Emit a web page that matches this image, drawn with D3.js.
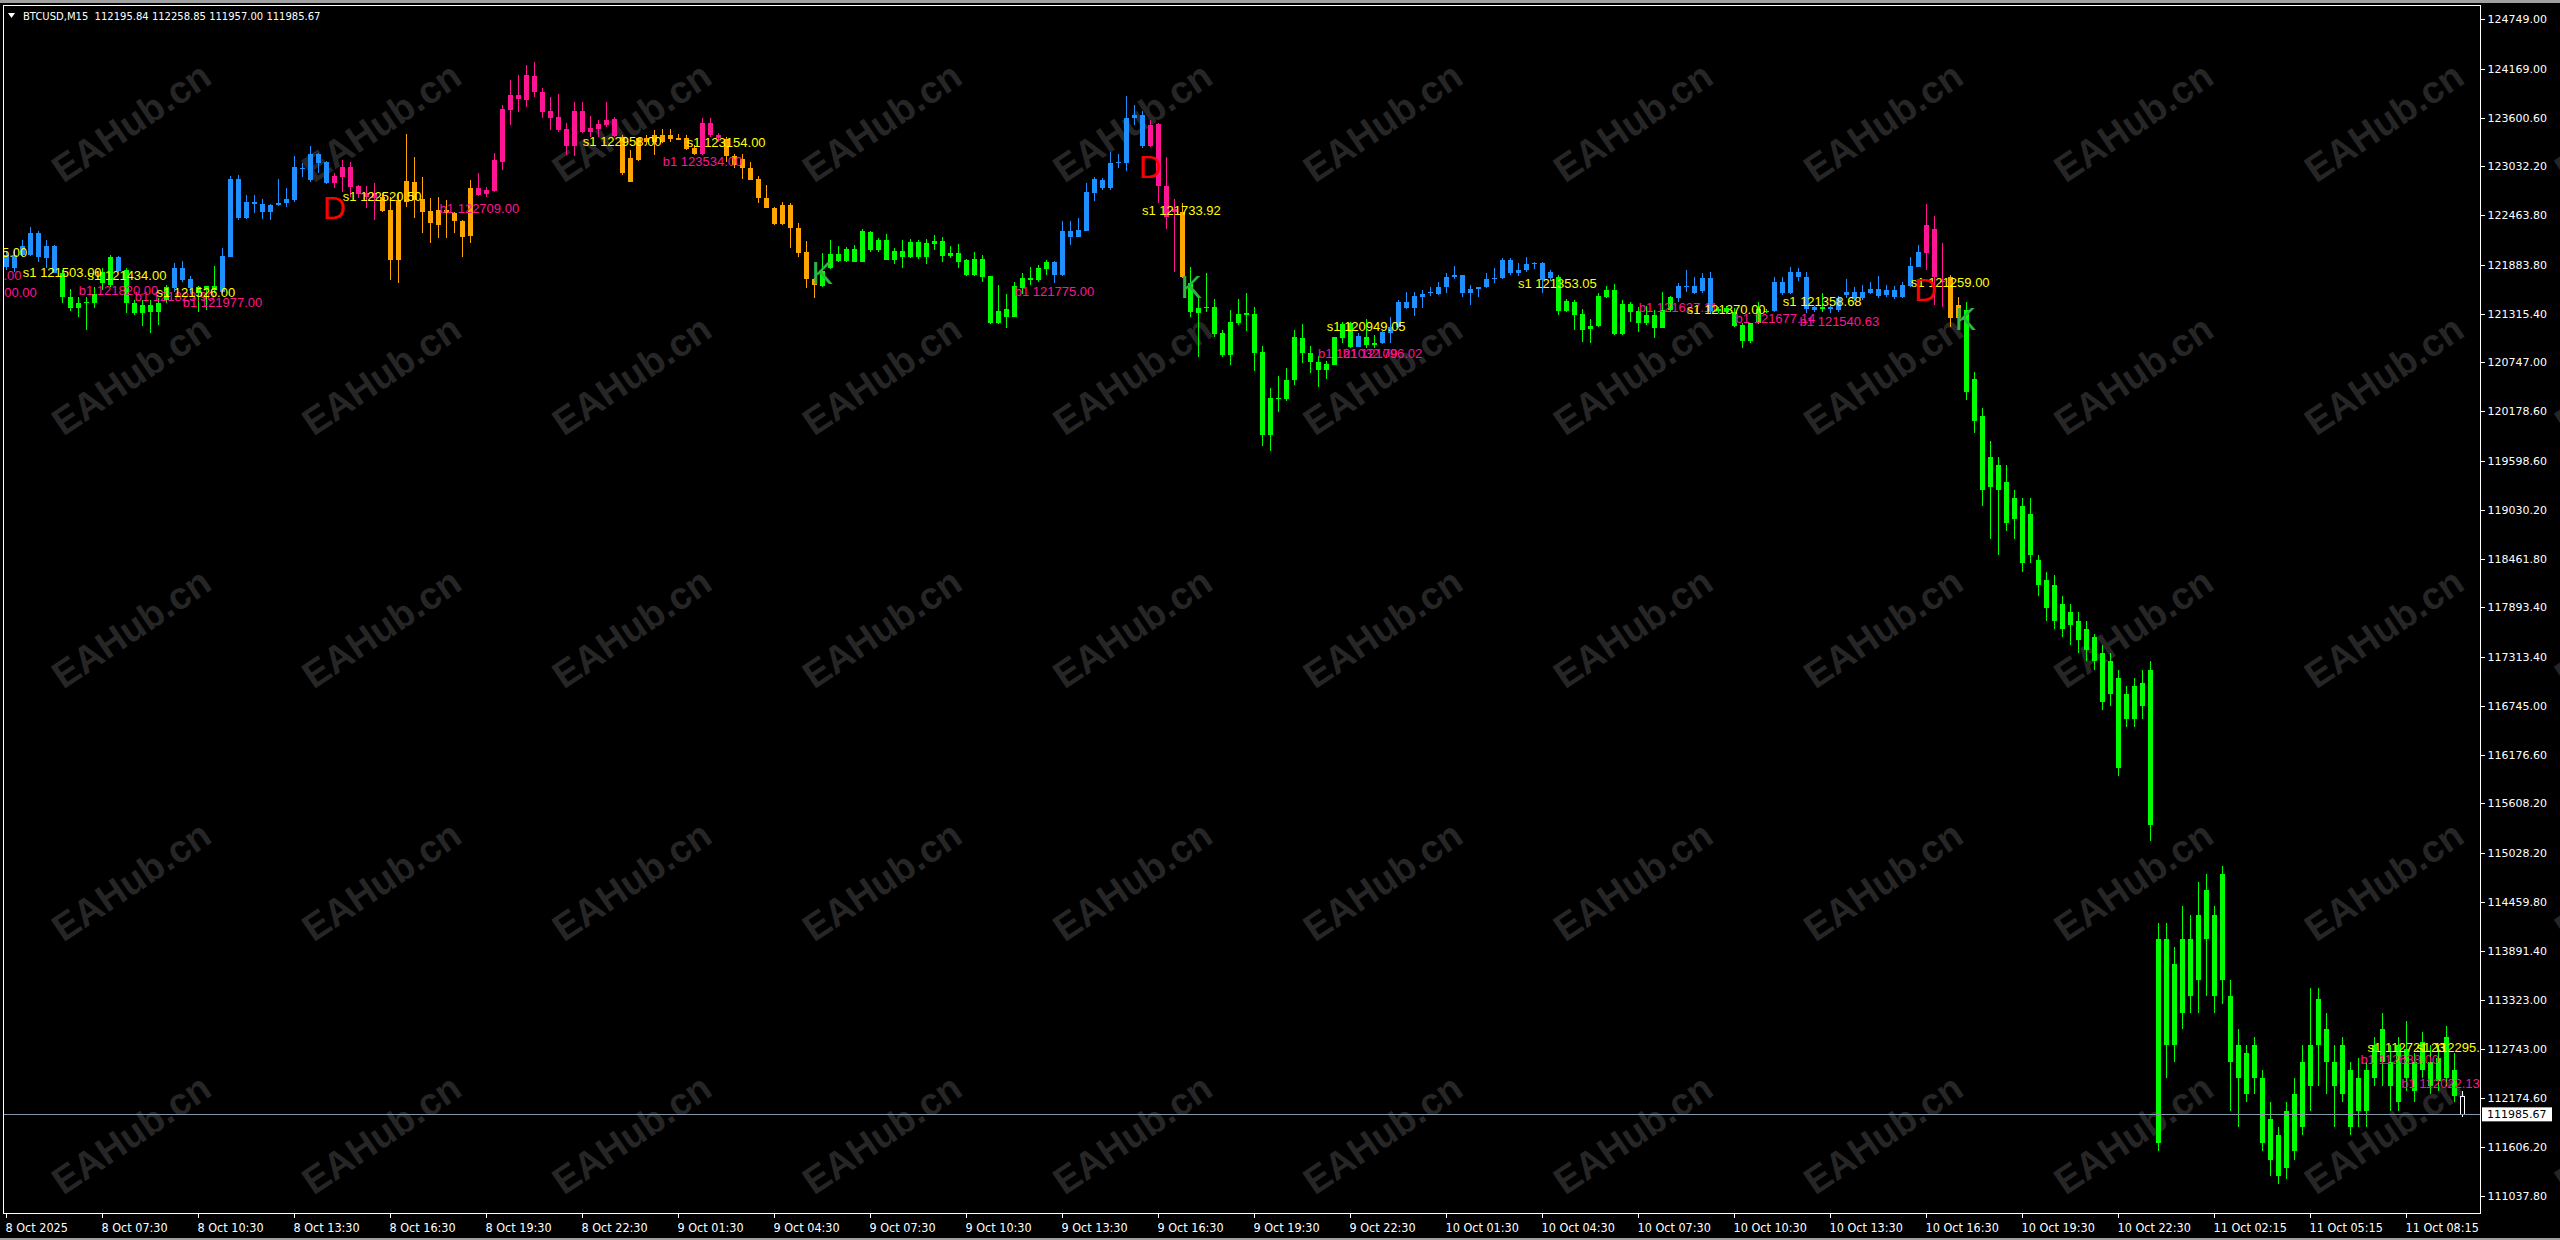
<!DOCTYPE html>
<html>
<head>
<meta charset="utf-8">
<script src="https://cdn.jsdelivr.net/npm/d3@7"></script>
<style>
  html, body { margin: 0; padding: 0; background: #000; }
  svg { display: block; }
</style>
</head>
<body>
<div id="chart"></div>
<script>
const symbolInfo = "BTCUSD,M15  112195.84 112258.85 111957.00 111985.67";
const lastPrice = 111985.67;

const priceTicks = [124749.00, 124169.00, 123600.60, 123032.20, 122463.80, 121883.80, 121315.40,
  120747.00, 120178.60, 119598.60, 119030.20, 118461.80, 117893.40, 117313.40, 116745.00,
  116176.60, 115608.20, 115028.20, 114459.80, 113891.40, 113323.00, 112743.00, 112174.60,
  111606.20, 111037.80];

const timeLabels = ["8 Oct 2025", "8 Oct 07:30", "8 Oct 10:30", "8 Oct 13:30", "8 Oct 16:30",
  "8 Oct 19:30", "8 Oct 22:30", "9 Oct 01:30", "9 Oct 04:30", "9 Oct 07:30", "9 Oct 10:30",
  "9 Oct 13:30", "9 Oct 16:30", "9 Oct 19:30", "9 Oct 22:30", "10 Oct 01:30", "10 Oct 04:30",
  "10 Oct 07:30", "10 Oct 10:30", "10 Oct 13:30", "10 Oct 16:30", "10 Oct 19:30", "10 Oct 22:30",
  "11 Oct 02:15", "11 Oct 05:15", "11 Oct 08:15"];
const labelEvery = 12;

// indicator state per run of bars: B up, G weak, O pullback, P down, W plain last bar
const signalRuns = [["B",7],["G",7],["B",1],["G",6],["B",3],["G",3],["B",14],["P",6],["O",12],
  ["P",18],["O",10],["P",3],["O",12],["G",29],["B",12],["P",4],["O",1],["G",21],["B",1],["G",2],
  ["B",22],["G",15],["B",5],["G",7],["B",6],["G",1],["B",12],["P",3],["O",2],["G",62],["W",1]];

// open, high, low, close
const ohlc = [
[121863,122038,121824,121999],[121999,122057,121805,121844],[121999,122174,121980,122104],[121999,122321,121990,122252],
[122252,122283,121921,121972],[122104,122174,121844,121960],[122104,122116,121785,121793],[121785,121824,121444,121506],
[121514,121599,121350,121385],[121385,121514,121281,121444],[121444,121514,121125,121455],[121436,121622,121378,121545],
[121669,121844,121591,121805],[121650,121999,121630,121980],[121980,121987,121805,121817],[121824,121844,121319,121436],
[121444,121475,121300,121319],[121319,121475,121176,121416],[121416,121475,121086,121339],[121339,121494,121183,121436],
[121475,121650,121436,121630],[121611,121902,121572,121844],[121844,121933,121689,121708],[121716,121754,121552,121611],
[121630,121642,121339,121552],[121591,121642,121358,121638],[121638,121871,121552,121591],[121572,122077,121552,121987],
[121980,122920,121972,122881],[122881,122931,122407,122426],[122426,122698,122418,122617],[122617,122698,122492,122589],
[122593,122648,122418,122504],[122504,122593,122407,122582],[122582,122881,122570,122609],[122601,122776,122555,122648],
[122640,123153,122621,123029],[123009,123067,122912,123001],[122873,123269,122854,123176],[123176,123185,122951,123067],
[123087,123095,122827,122834],[122842,122951,122776,122920],[122912,123106,122737,123029],[123029,123087,122679,122796],
[122803,122810,122660,122710],[122718,122803,122543,122679],[122718,122834,122407,122660],[122679,122718,122504,122516],
[122524,122679,121708,121941],[121941,122718,121669,122640],[122621,123409,122563,122862],[122850,123145,122427,122640],
[122648,122912,122260,122504],[122512,122660,122135,122368],[122349,122679,122194,122524],[122524,122640,122194,122485],
[122493,122504,122252,122399],[122396,122407,121972,122213],[122225,122873,122135,122776],[122776,122951,122687,122698],
[122706,122796,122679,122757],[122745,123184,122737,123106],[123087,123747,122990,123697],[123689,124038,123514,123864],
[123864,124097,123669,123813],[123805,124213,123728,124097],[124089,124250,123844,123903],[123903,123941,123600,123661],
[123677,123844,123456,123599],[123611,123871,123436,123456],[123467,123534,123164,123273],[123273,123786,123157,123677],
[123677,123786,123417,123436],[123436,123622,123378,123483],[123467,123573,123378,123522],[123514,123786,123495,123573],
[123584,123611,123378,123390],[123378,123397,122931,122951],[122854,123223,122846,123125],[123106,123366,123100,123358],
[123366,123397,123280,123312],[123312,123456,123164,123397],[123397,123467,123300,123312],[123351,123467,123312,123397],
[123366,123405,123339,123343],[123358,123397,123222,123234],[123250,123281,123164,123176],[123176,123592,123164,123534],
[123534,123592,123378,123397],[123397,123417,123312,123358],[123351,123378,123087,123157],[123157,123172,123009,123048],
[123118,123172,122885,123009],[123009,123079,122868,122873],[122885,122919,122601,122667],[122659,122815,122543,122551],
[122551,122562,122349,122360],[122360,122621,122349,122582],[122582,122601,122085,122310],[122310,122368,121972,122026],
[122030,122162,121611,121716],[121719,121735,121502,121650],[121642,122019,121622,121813],[121844,122174,121836,122007],
[122007,122108,121922,121933],[121933,122096,121914,122069],[122069,122116,121914,121922],[121922,122302,121918,122279],
[122263,122279,122038,122057],[122057,122201,122038,122174],[122174,122240,121938,121941],[121941,122077,121890,122046],
[122046,122174,121851,121980],[121980,122186,121960,122147],[122147,122174,121953,121980],[121980,122186,121894,122135],
[122127,122232,122057,122162],[122162,122213,121914,121988],[121988,122108,121960,122019],[122019,122123,121844,121922],
[121941,121953,121758,121766],[121766,122038,121758,121953],[121953,121999,121688,121746],[121754,121758,121195,121203],
[121203,121650,121191,121351],[121366,121541,121152,121281],[121281,121688,121273,121642],[121611,121786,121541,121727],
[121727,121863,121650,121708],[121708,121882,121688,121844],[121836,121941,121766,121922],[121922,121933,121677,121766],
[121766,122399,121760,122283],[122283,122399,122116,122213],[122213,122427,122205,122291],[122283,122834,122275,122737],
[122726,122904,122629,122881],[122873,122893,122757,122784],[122776,123203,122757,123068],[123068,123172,123009,123087],
[123075,123852,122982,123592],[123592,123747,123514,123631],[123631,123681,123242,123269],[123269,123572,123262,123514],
[123526,123534,122609,122807],[122803,123145,122298,122446],[122540,122648,121805,122500],[122504,122601,121735,121739],
[121669,121864,121281,121339],[121378,121514,120815,121327],[121378,121794,121339,121397],[121390,121483,121048,121079],
[121087,121126,120815,120834],[120834,121359,120718,121223],[121203,121483,121184,121312],[121300,121553,121118,121327],
[121312,121397,120652,120861],[120873,120939,119774,119902],[119902,120446,119719,120329],[120329,120590,120174,120318],
[120318,120679,120302,120543],[120543,121126,120485,121040],[121028,121195,120745,120854],[120854,120939,120621,120757],
[120757,120823,120465,120659],[120659,120768,120551,120729],[120718,121048,120712,121040],[121028,121223,120970,121195],
[121203,121223,120912,120931],[120931,121094,120924,121056],[121048,121250,120912,120951],[120951,121067,120912,120970],
[120970,121118,120962,121102],[121087,121273,120978,121157],[121157,121475,121145,121452],[121452,121572,121370,121378],
[121378,121572,121289,121522],[121514,121592,121378,121545],[121553,121630,121522,121572],[121545,121689,121533,121623],
[121623,121794,121553,121739],[121739,121871,121716,121766],[121766,121770,121506,121553],[121553,121650,121417,121599],
[121599,121630,121506,121623],[121623,121794,121611,121716],[121716,121844,121677,121728],[121728,121961,121716,121941],
[121941,121961,121766,121786],[121794,121902,121755,121825],[121825,121980,121805,121895],[121895,121922,121832,121910],
[121910,121922,121553,121708],[121728,121830,121700,121805],[121747,121766,121300,121351],[121350,121482,121338,121467],
[121455,121474,121125,121300],[121311,121366,120989,121125],[121133,121249,120969,121171],[121171,121552,121164,121521],
[121513,121638,121494,121591],[121591,121661,121067,121078],[121078,121474,121067,121428],[121428,121455,121222,121338],
[121350,121389,121105,121202],[121202,121404,121183,121300],[121300,121358,121028,121152],[121152,121572,121144,121358],
[121358,121521,121338,121513],[121494,121677,121455,121638],[121630,121824,121572,121638],[121638,121746,121545,121560],
[121583,121793,121552,121727],[121727,121801,121319,121350],[121350,121397,121319,121366],[121338,121404,121311,121377],
[121338,121377,121164,121171],[121183,121202,120911,121001],[121001,121210,120969,121202],[121202,121455,121195,121366],
[121350,121366,121319,121331],[121350,121746,121338,121688],[121688,121739,121533,121552],[121552,121863,121545,121805],
[121805,121843,121700,121746],[121739,121805,121327,121366],[121358,121404,121338,121389],[121389,121552,121338,121366],
[121366,121428,121319,121389],[121358,121521,121338,121494],[121537,121715,121494,121568],[121568,121630,121467,121494],
[121494,121650,121474,121568],[121560,121688,121545,121599],[121599,121754,121494,121521],[121533,121650,121513,121591],
[121591,121638,121482,121513],[121513,121688,121494,121650],[121638,121980,121622,121871],[121863,122115,121855,122038],
[122019,122593,121824,122349],[122302,122450,121417,121746],[121700,122135,121397,121680],[121746,121766,121164,121261],
[121261,121513,121249,121416],[121354,121450,120308,120403],[120555,120631,119927,120060],[120118,120213,119071,119261],
[119642,119832,118690,119299],[119547,119642,118500,119261],[119356,119547,118785,118880],[118918,119261,118690,119166],
[119071,119166,118310,118405],[118500,119166,118405,118976],[118443,118500,118024,118157],[118214,118310,117739,117891],
[118157,118272,117643,117739],[117643,118024,117548,117929],[117834,117929,117453,117682],[117739,117834,117358,117510],
[117643,117739,117263,117396],[117548,117586,117168,117263],[117358,117453,116692,116787],[116882,117358,116749,117263],
[117072,117168,115931,116026],[116597,116977,116502,116882],[116597,117072,116502,116977],[117015,117168,116597,116749],
[117168,117263,115170,115360],[114028,114218,111554,111649],[112791,114218,112410,114028],[113743,113933,112601,112791],
[113171,114409,112981,114028],[114028,114313,113171,113362],[113552,114694,113171,114313],[114028,114789,113362,114599],
[114313,114409,113171,113362],[113552,114884,113267,114789],[113362,113552,112030,112601],[112791,112981,111839,112410],
[112696,112791,112125,112220],[112410,112886,112220,112791],[112410,112505,111554,111649],[111935,112125,111268,111459],
[111744,111839,111173,111268],[111364,112125,111230,112030],[111554,112410,111459,112220],[111839,112791,111744,112601],
[112315,113457,112030,112791],[112791,113457,112315,113324],[112981,113171,112220,112601],[112601,112791,111839,112315],
[112220,112886,112125,112791],[112505,112601,111744,111839],[112030,112639,111839,112410],[112030,112601,111839,112505],
[112410,112886,112315,112791],[112601,113171,112315,112981],[112601,112791,112030,112315],[112125,112886,112030,112791],
[112753,113076,112258,112410],[112601,112696,112125,112258],[112505,112943,112410,112829],[112601,112791,112220,112315],
[112372,112791,112258,112639],[112410,113019,112315,112886],[112505,112696,112125,112196],[112195.84,112258.85,111957.00,111985.67]
];

// text objects: [text, bar where the text starts, price at baseline, kind]
const notes = [
  ["s1 121715.00", -7.2, 121976, "s"], ["b1 121890.00", -8.0, 121708, "b"], ["b1 121900.00", -6.1, 121513, "b"],
  ["s1 121503.00", 2.1, 121746, "s"], ["s1 121434.00", 10.2, 121708, "s"], ["b1 121820.00", 9.1, 121533, "b"],
  ["b1 121823.90", 16.1, 121467, "b"], ["s1 121526.00", 18.8, 121513, "s"], ["b1 121977.00", 22.1, 121397, "b"],
  ["s1 122520.50", 42.1, 122628, "s"], ["b1 122709.00", 54.2, 122485, "b"], ["s1 122958.00", 72.1, 123273, "s"],
  ["s1 123154.00", 85.1, 123261, "s"], ["b1 123534.00", 82.1, 123036, "b"], ["b1 121775.00", 126.1, 121521, "b"],
  ["s1 121733.92", 142.0, 122465, "s"], ["s1 120949.05", 165.1, 121117, "s"], ["b1 121032.79", 164.0, 120799, "b"],
  ["b1 121096.02", 167.1, 120799, "b"], ["s1 121353.05", 189.0, 121615, "s"], ["b1 121627.11", 204.1, 121339, "b"],
  ["s1 121370.00", 210.1, 121312, "s"], ["b1 121677.14", 216.2, 121203, "b"], ["s1 121358.68", 222.1, 121405, "s"],
  ["b1 121540.63", 224.2, 121175, "b"], ["s1 121259.00", 238.1, 121630, "s"],
  ["s1 112721.23", 295.2, 112713, "s"], ["s1 112295.00", 301.3, 112713, "s"],
  ["b1 112638.00", 294.3, 112573, "b"], ["b1 112022.13", 299.4, 112290, "b"]
];

// signal letters: [letter, bar where it starts, price at baseline]
const signals = [
  ["D", 39.6, 122418], ["K", 100.7, 121661], ["D", 141.6, 122896],
  ["K", 146.8, 121498], ["D", 238.5, 121467], ["K", 243.6, 121125]
];

const stateColor = { B: "#1e90ff", G: "#00ff00", O: "#ffa500", P: "#ff1493", W: "#ffffff" };
const noteColor = { s: "#ffff00", b: "#ff1493" };
const letterColor = { D: "#ff0000", K: "#2fb544" };

const W = 2560, H = 1240;
const plot = { left: 3, right: 2480, top: 5, bottom: 1213 };
const barStep = 8;

const states = signalRuns.flatMap(([s, n]) => Array(n).fill(s));

const x = d3.scaleLinear()
  .domain([0, ohlc.length - 1])
  .range([6, 6 + barStep * (ohlc.length - 1)]);
const y = d3.scaleLinear()
  .domain([111037.8, 124749])
  .range([1195.7, 19]);

const svg = d3.select("#chart").append("svg")
  .attr("width", W)
  .attr("height", H)
  .style("font-family", "'DejaVu Sans', sans-serif");

svg.append("rect").attr("width", W).attr("height", H).attr("fill", "#000");
svg.append("rect").attr("width", W).attr("height", 3).attr("fill", "#a0a0a0");
svg.append("rect").attr("y", H - 2).attr("width", W).attr("height", 2).attr("fill", "#a0a0a0");

svg.append("clipPath").attr("id", "plotClip")
  .append("rect")
  .attr("x", plot.left + 1).attr("y", plot.top + 1)
  .attr("width", plot.right - plot.left - 1).attr("height", plot.bottom - plot.top - 1);

// watermark, tiled over the whole window
const wm = svg.append("g");
for (let r = 0; r < 5; r++) {
  for (let c = 0; c < 11; c++) {
    wm.append("text")
      .attr("transform", `translate(${131 + c * 250.3},${122 + r * 253}) rotate(-34)`)
      .attr("text-anchor", "middle")
      .attr("dy", "0.35em")
      .style("font-family", "'Liberation Sans', Arial, sans-serif")
      .style("font-weight", "bold")
      .style("font-size", "38px")
      .attr("fill", "#262626")
      .text("EAHub.cn");
  }
}

// candles
const candles = svg.append("g")
  .attr("clip-path", "url(#plotClip)")
  .attr("shape-rendering", "crispEdges");

const bar = candles.selectAll("g.bar")
  .data(ohlc)
  .enter()
  .append("g")
  .attr("class", "bar");

bar.append("line")
  .attr("x1", (d, i) => Math.round(x(i)) + 0.5)
  .attr("x2", (d, i) => Math.round(x(i)) + 0.5)
  .attr("y1", d => y(d[1]))
  .attr("y2", d => y(d[2]))
  .attr("stroke", (d, i) => stateColor[states[i]])
  .attr("stroke-width", 1);

bar.append("rect")
  .attr("x", (d, i) => Math.round(x(i)) - 2 + (states[i] === "W" ? 0.5 : 0))
  .attr("width", (d, i) => states[i] === "W" ? 4 : 5)
  .attr("y", d => y(Math.max(d[0], d[3])))
  .attr("height", d => Math.max(1, y(Math.min(d[0], d[3])) - y(Math.max(d[0], d[3]))))
  .attr("fill", (d, i) => states[i] === "W" ? "#000" : stateColor[states[i]])
  .attr("stroke", (d, i) => states[i] === "W" ? "#fff" : "none");

// bid line
svg.append("line")
  .attr("x1", plot.left).attr("x2", plot.right)
  .attr("y1", Math.round(y(lastPrice)) + 0.5).attr("y2", Math.round(y(lastPrice)) + 0.5)
  .attr("stroke", "#8796a8")
  .attr("stroke-width", 1);

// text objects
const objs = svg.append("g").attr("clip-path", "url(#plotClip)");
objs.selectAll("text.note")
  .data(notes)
  .enter()
  .append("text")
  .attr("class", "note")
  .attr("x", d => x(d[1]))
  .attr("y", d => y(d[2]))
  .style("font-family", "'Liberation Sans', Arial, sans-serif")
  .style("font-size", "13px")
  .attr("fill", d => noteColor[d[3]])
  .text(d => d[0]);

objs.selectAll("text.sig")
  .data(signals)
  .enter()
  .append("text")
  .attr("class", "sig")
  .attr("x", d => x(d[1]))
  .attr("y", d => y(d[2]))
  .style("font-family", "'Liberation Sans', Arial, sans-serif")
  .style("font-size", "32px")
  .attr("fill", d => letterColor[d[0]])
  .text(d => d[0]);

// frame
svg.append("rect")
  .attr("x", plot.left + 0.5).attr("y", plot.top + 0.5)
  .attr("width", plot.right - plot.left).attr("height", plot.bottom - plot.top)
  .attr("fill", "none")
  .attr("stroke", "#fff")
  .attr("shape-rendering", "crispEdges");

// price axis
const yAxis = svg.append("g")
  .attr("transform", `translate(${plot.right + 0.5},0)`)
  .call(d3.axisRight(y).tickValues(priceTicks).tickFormat(d3.format(".2f")).tickSize(4).tickPadding(3));
yAxis.select(".domain").remove();
yAxis.selectAll(".tick line").attr("stroke", "#fff").attr("shape-rendering", "crispEdges");
yAxis.selectAll(".tick text")
  .attr("fill", "#fff")
  .style("font-family", "'DejaVu Sans', sans-serif")
  .style("font-size", "11px");

// current price tag
const tag = svg.append("g").attr("transform", `translate(${plot.right + 2},${y(lastPrice)})`);
tag.append("rect").attr("x", 0).attr("y", -7).attr("width", 70).attr("height", 14).attr("fill", "#fff");
tag.append("text")
  .attr("x", 5).attr("dy", "0.36em")
  .style("font-size", "11px")
  .attr("fill", "#000")
  .text(d3.format(".2f")(lastPrice));

// time axis
const tickBars = d3.range(0, ohlc.length, labelEvery).slice(0, timeLabels.length);
const xAxis = svg.append("g")
  .attr("transform", `translate(0,${plot.bottom + 0.5})`)
  .call(d3.axisBottom(x).tickValues(tickBars).tickFormat((d, i) => timeLabels[i]).tickSize(4).tickPadding(6));
xAxis.select(".domain").remove();
xAxis.selectAll(".tick line").attr("stroke", "#fff").attr("shape-rendering", "crispEdges");
xAxis.selectAll(".tick text")
  .attr("fill", "#fff")
  .attr("text-anchor", "start")
  .attr("dx", -1)
  .style("font-family", "'DejaVu Sans Condensed', 'DejaVu Sans', sans-serif")
  .style("font-size", "12.5px");

// header
svg.append("path").attr("d", "M8,13 L15,13 L11.5,18 Z").attr("fill", "#fff");
svg.append("text")
  .attr("x", 23).attr("y", 20)
  .style("font-size", "10px")
  .attr("fill", "#fff")
  .attr("xml:space", "preserve")
  .style("white-space", "pre")
  .text(symbolInfo);
</script>
</body>
</html>
